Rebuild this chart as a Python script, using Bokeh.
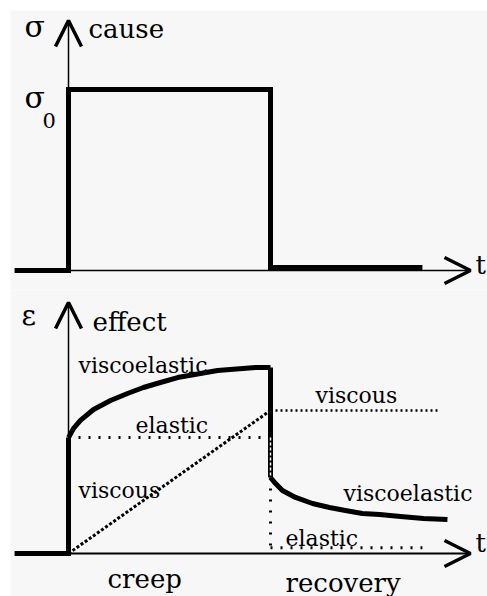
from bokeh.plotting import figure
from bokeh.layouts import column
from bokeh.models import Range1d, Arrow, OpenHead
from bokeh.core.properties import value
from bokeh.embed import file_html
from bokeh.resources import INLINE

# ---- data (time t: 0 = load applied, 1 = load removed) ----
stress_t = [-0.267, 0.0, 0.0, 1.0, 1.0, 1.752]
stress_v = [0.0, 0.0, 1.0, 1.0, 0.017, 0.017]

lead_t = [-0.267, 0.0, 0.0]
lead_v = [0.0, 0.0, 1.0]

creep_t = [0.0, 0.025, 0.059, 0.124, 0.208, 0.292, 0.371, 0.455, 0.540, 0.738, 0.926, 1.0]
creep_v = [1.0, 1.078, 1.147, 1.241, 1.319, 1.379, 1.431, 1.474, 1.517, 1.578, 1.603, 1.603]

drop_t = [1.0, 1.0]
drop_v = [1.603, 0.655]

recovery_t = [1.0, 1.025, 1.059, 1.124, 1.208, 1.292, 1.371, 1.455, 1.540, 1.644, 1.757, 1.876]
recovery_v = [0.655, 0.603, 0.543, 0.483, 0.431, 0.397, 0.371, 0.345, 0.336, 0.319, 0.302, 0.293]

elastic_creep_t = [0.0, 1.0]
elastic_creep_v = [1.0, 1.0]
viscous_creep_t = [0.0, 1.0]
viscous_creep_v = [0.0, 1.233]
viscous_rec_t = [1.0, 1.837]
viscous_rec_v = [1.233, 1.233]
elastic_rec_drop_t = [1.0, 1.0]
elastic_rec_drop_v = [0.655, 0.0]
elastic_rec_t = [1.0, 1.752]
elastic_rec_v = [0.05, 0.05]
gap_t = [1.0, 1.0]
gap_v = [1.0, 0.655]

axis_t_end = 1.990
stress_axis_top = 1.381
strain_axis_top = 2.164

# ---- layout helpers (pixel -> data for label placement) ----
SHIFT = 7  # baseline correction for rendered text

def tx(px):
    return (px - 68) / 202.0

def sy(py):
    return (270 - (py - SHIFT)) / 181.0

def ey(py):
    return (553 - (py - SHIFT)) / 116.0

FONT = value("DejaVu Serif")
BG = "#f7f7f7"
xr = Range1d(tx(10), tx(487))

def base_fig(h, top_border, yr):
    p = figure(width=487, height=h, x_range=xr, y_range=yr,
               x_axis_type=None, y_axis_type=None,
               output_backend="svg", toolbar_location=None,
               min_border_left=10, min_border_right=0,
               min_border_top=top_border, min_border_bottom=0)
    p.background_fill_color = BG
    p.border_fill_color = "white"
    p.outline_line_color = None
    p.grid.visible = False
    return p

def label(p, x, y, s, size):
    p.text(x=[x], y=[y], text=[s], text_font=FONT, text_font_size=size,
           text_color="black", text_baseline="alphabetic", text_align="left")

HEAD = dict(size=26, line_width=3.5, line_color="black")

# ---- top: cause ----
p1 = base_fig(290, 10, Range1d((270 - 290) / 181.0, (270 - 10) / 181.0))
p1.add_layout(Arrow(end=OpenHead(**HEAD),
                    x_start=0, y_start=0, x_end=axis_t_end, y_end=0,
                    line_width=1.5, line_color="black"))
p1.add_layout(Arrow(end=OpenHead(**HEAD),
                    x_start=0, y_start=0, x_end=0, y_end=stress_axis_top,
                    line_width=1.5, line_color="black"))
p1.line(stress_t, stress_v, line_width=5, line_color="black", line_join="miter")
label(p1, tx(24), sy(33), "σ", "30px")
label(p1, tx(88), sy(35), "cause", "26px")
label(p1, tx(24), sy(104), "σ", "30px")
label(p1, tx(42), sy(127), "0", "21px")
label(p1, tx(475), sy(271), "t", "26px")

# ---- bottom: effect ----
p2 = base_fig(306, 0, Range1d((553 - 596) / 116.0, (553 - 290) / 116.0))
p2.add_layout(Arrow(end=OpenHead(**HEAD),
                    x_start=0, y_start=0, x_end=axis_t_end, y_end=0,
                    line_width=2, line_color="black"))
p2.add_layout(Arrow(end=OpenHead(**HEAD),
                    x_start=0, y_start=0, x_end=0, y_end=strain_axis_top,
                    line_width=1.5, line_color="black"))

p2.line(elastic_creep_t, elastic_creep_v, line_width=3, line_color="black", line_dash="2 8")
p2.line(viscous_creep_t, viscous_creep_v, line_width=3, line_color="black", line_dash="3 2")
p2.line(viscous_rec_t, viscous_rec_v, line_width=2.5, line_color="black", line_dash="2 3")
p2.line(elastic_rec_drop_t, elastic_rec_drop_v, line_width=3, line_color="black", line_dash="2 9")
p2.line(elastic_rec_t, elastic_rec_v, line_width=3, line_color="black", line_dash="2 8")

p2.line(lead_t, lead_v, line_width=5, line_color="black", line_join="miter")
p2.line(creep_t, creep_v, line_width=5, line_color="black", line_join="round")
p2.line(drop_t, drop_v, line_width=5, line_color="black")
p2.line(recovery_t, recovery_v, line_width=5, line_color="black", line_join="round")
p2.line(gap_t, gap_v, line_width=1.5, line_color="white", line_dash="3 2")

label(p2, tx(21), ey(322), "ε", "28px")
label(p2, tx(92), ey(328), "effect", "26px")
label(p2, tx(78), ey(372), "viscoelastic", "22px")
label(p2, tx(135), ey(432), "elastic", "22px")
label(p2, tx(315), ey(402), "viscous", "22px")
label(p2, tx(78), ey(497), "viscous", "22px")
label(p2, tx(343), ey(500), "viscoelastic", "22px")
label(p2, tx(285), ey(545), "elastic", "22px")
label(p2, tx(475), ey(549), "t", "26px")
label(p2, tx(107), ey(585), "creep", "26px")
label(p2, tx(285), ey(589), "recovery", "26px")

layout = column(p1, p2, spacing=0)
open("out.html", "w").write(file_html(layout, INLINE))
